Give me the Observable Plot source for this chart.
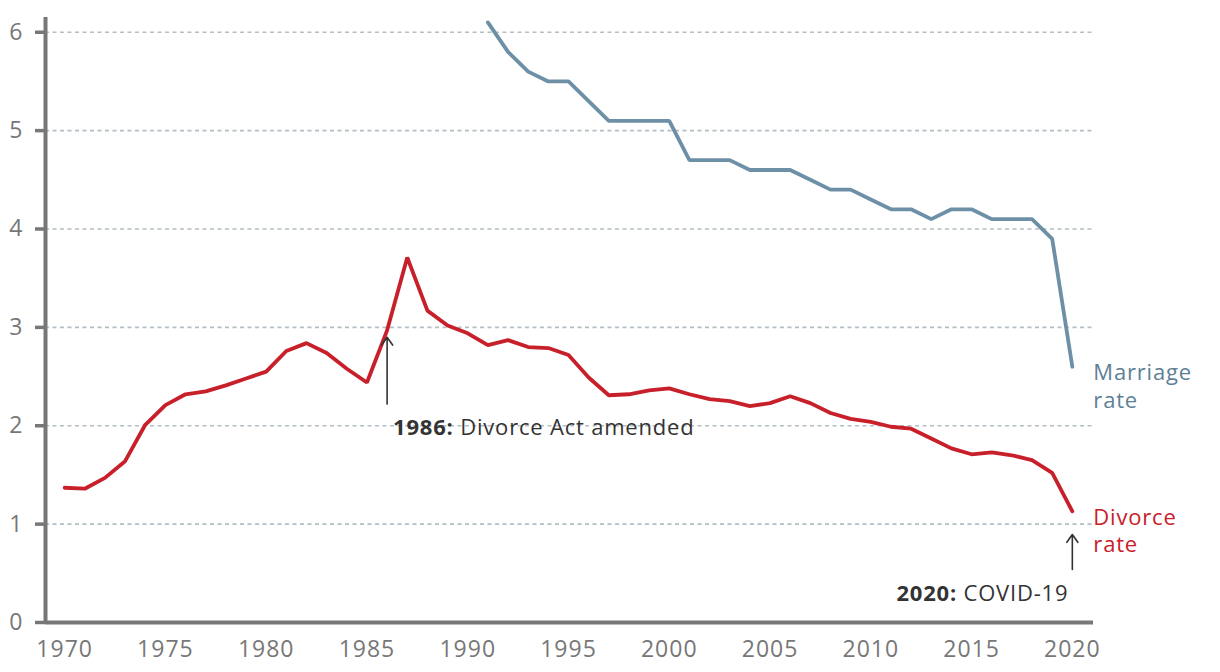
<!DOCTYPE html>
<html><head><meta charset="utf-8">
<script src="https://cdn.jsdelivr.net/npm/d3@7"></script>
<script src="https://cdn.jsdelivr.net/npm/@observablehq/plot@0.6"></script>
<style>
body{margin:0;background:#fff;}
#chart svg{display:block;}
#chart g[aria-label="x-axis tick label"] text{letter-spacing:1px;}
#chart g[aria-label="y-axis tick label"] text{letter-spacing:1px;}
#chart g[aria-label="text"] text{letter-spacing:0.8px;}
</style>
</head><body><div id="chart"></div>
<script>
// ---- data ----
const years = [1970,1971,1972,1973,1974,1975,1976,1977,1978,1979,1980,1981,1982,1983,1984,1985,1986,1987,1988,1989,1990,1991,1992,1993,1994,1995,1996,1997,1998,1999,2000,2001,2002,2003,2004,2005,2006,2007,2008,2009,2010,2011,2012,2013,2014,2015,2016,2017,2018,2019,2020];
const divorceRate = [1.37,1.36,1.47,1.64,2.01,2.21,2.32,2.35,2.41,2.48,2.55,2.76,2.84,2.74,2.58,2.44,2.97,3.71,3.17,3.02,2.94,2.82,2.87,2.80,2.79,2.72,2.49,2.31,2.32,2.36,2.38,2.32,2.27,2.25,2.20,2.23,2.30,2.23,2.13,2.07,2.04,1.99,1.97,1.87,1.77,1.71,1.73,1.70,1.65,1.52,1.13];
const marriageYears = [1991,1992,1993,1994,1995,1996,1997,1998,1999,2000,2001,2002,2003,2004,2005,2006,2007,2008,2009,2010,2011,2012,2013,2014,2015,2016,2017,2018,2019,2020];
const marriageRate = [6.1,5.8,5.6,5.5,5.5,5.3,5.1,5.1,5.1,5.1,4.7,4.7,4.7,4.6,4.6,4.6,4.5,4.4,4.4,4.3,4.2,4.2,4.1,4.2,4.2,4.1,4.1,4.1,3.9,2.6];
const xTicks = [1970,1975,1980,1985,1990,1995,2000,2005,2010,2015,2020];
const yTicks = [0,1,2,3,4,5,6];
const gridValues = [1,2,3,4,5,6];
const xDomain = [1969.05, 2021.05];
const yDomain = [0, 6.15];
const seriesNames = ["Marriage\nrate", "Divorce\nrate"];
const annotationYears = [1986, 2020];
const annotationFrom = [2.22, 0.54];
const annotationTo = [2.9, 0.895];
const annotationBold = ["1986:", "2020:"];
const annotationText = ["Divorce Act amended", "COVID-19"];
const annotationAnchor = ["start", "end"];

// ---- tables ----
const divorce = years.map((y,i)=>({year:y, value:divorceRate[i]}));
const marriage = marriageYears.map((y,i)=>({year:y, value:marriageRate[i]}));
const endLabels = [
  {year: marriageYears[marriageYears.length-1], value: marriageRate[marriageRate.length-1], name: seriesNames[0], color:"#5e8097"},
  {year: years[years.length-1], value: divorceRate[divorceRate.length-1], name: seriesNames[1], color:"#c8202b"}
];
const notes = annotationYears.map((y,i)=>({year:y, from:annotationFrom[i], to:annotationTo[i],
  label: annotationBold[i] + " " + annotationText[i], anchor: annotationAnchor[i]}));

const FONT = "'Open Sans', 'Noto Sans', sans-serif";
const RED = "#c8202b", BLUE = "#6e90a7", AXIS = "#777";

const chart = Plot.plot({
  width: 1220, height: 672,
  marginLeft: 45, marginRight: 127, marginTop: 17, marginBottom: 50,
  style: {fontFamily: FONT, background: "#fff", overflow: "visible"},
  x: {domain: xDomain},
  y: {domain: yDomain},
  marks: [
    Plot.ruleY(gridValues, {stroke: "#b3bec5", strokeWidth: 1.6, strokeDasharray: "4,3.5"}),
    Plot.line(marriage, {x: "year", y: "value", stroke: BLUE, strokeWidth: 3.8, strokeLinejoin: "miter", strokeLinecap: "round"}),
    Plot.line(divorce, {x: "year", y: "value", stroke: RED, strokeWidth: 3.8, strokeLinejoin: "miter", strokeLinecap: "round"}),
    Plot.ruleX([xDomain[0]], {stroke: AXIS, strokeWidth: 4}),
    Plot.ruleY([0], {stroke: AXIS, strokeWidth: 4}),
    Plot.axisX({ticks: xTicks, tickFormat: "d", tickSize: 0, tickPadding: 18, fontSize: 23, color: AXIS, label: null}),
    Plot.axisY({ticks: yTicks, tickFormat: "d", tickSize: 10, tickPadding: 12, fontSize: 23, color: AXIS, strokeWidth: 3.5, label: null}),
    Plot.arrow(notes, {x1: "year", x2: "year", y1: "from", y2: "to", stroke: "#333", strokeWidth: 1.6, headLength: 9, headAngle: 70}),
    Plot.text(notes.filter(d=>d.anchor==="start"), {x: "year", y: "from", text: "label", textAnchor: "start", lineAnchor: "top", dx: 6, dy: 15, fontSize: 22, fill: "#333"}),
    Plot.text(notes.filter(d=>d.anchor==="end"), {x: "year", y: "from", text: "label", textAnchor: "end", lineAnchor: "top", dx: -4, dy: 16, fontSize: 22, fill: "#333"}),
    Plot.text(endLabels, {x: "year", y: "value", text: "name", fill: "color", textAnchor: "start", lineAnchor: "top", dx: 21, dy: -6, fontSize: 22, lineHeight: 1.25})
  ]
});

// bold the year prefix of each annotation (keeps real text)
chart.querySelectorAll("text").forEach(t => {
  notes.forEach((n,i) => {
    if (t.textContent === n.label) {
      t.textContent = "";
      const b = document.createElementNS("http://www.w3.org/2000/svg","tspan");
      b.setAttribute("font-weight","bold");
      b.textContent = annotationBold[i];
      const r = document.createElementNS("http://www.w3.org/2000/svg","tspan");
      r.textContent = " " + annotationText[i];
      t.appendChild(b); t.appendChild(r);
    }
  });
});
document.getElementById("chart").appendChild(chart);
</script>
</body></html>
